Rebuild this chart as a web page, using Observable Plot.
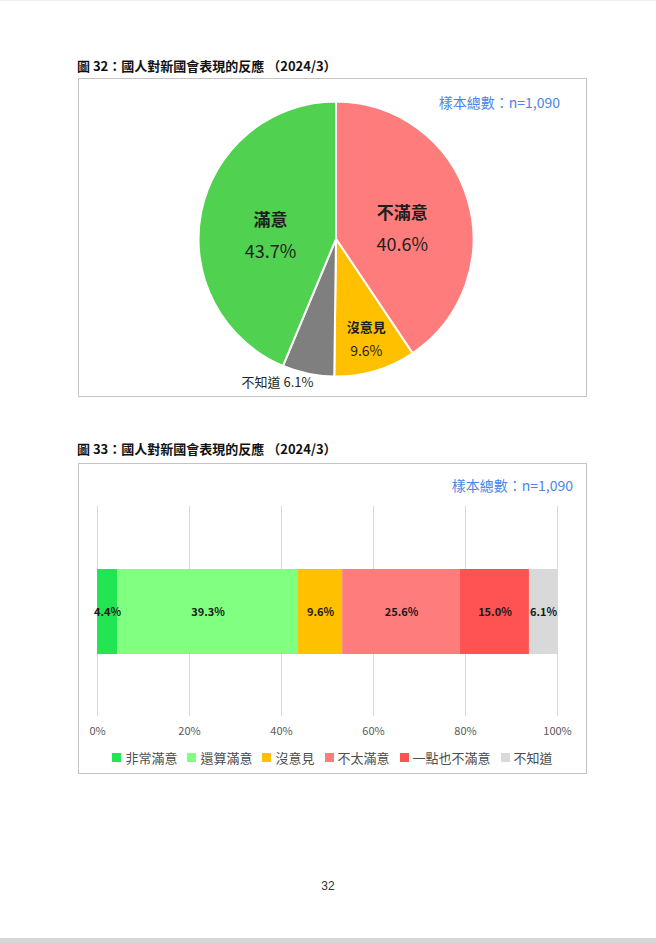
<!DOCTYPE html>
<html>
<head>
<meta charset="utf-8">
<script src="https://cdn.jsdelivr.net/npm/d3@7"></script>
<script src="https://cdn.jsdelivr.net/npm/@observablehq/plot@0.6"></script>
<style>
  html, body { margin: 0; padding: 0; background: #fff; }
  body { width: 656px; height: 943px; position: relative; overflow: hidden;
         font-family: "Noto Sans CJK TC", "Noto Sans", sans-serif; }
  .abs { position: absolute; }
  .title { font-size: 13px; font-weight: bold; color: #111; white-space: nowrap; letter-spacing: 0; }
  .box { border: 1.5px solid #c4c4c4; box-sizing: border-box; }
  .sample { font-size: 14px; color: #4a86e8; white-space: nowrap; text-align: right; }
  #legend .lg-swatches { justify-content: center; width: 100%; min-height: 0; font-family: "Noto Sans CJK TC", sans-serif; font-size: 13px; color: #4d4d4d; }
  #legend .lg-swatch { margin-right: 10px; }
  #legend .lg-swatch:last-child { margin-right: 0; }
  #legend .lg-swatch > svg { margin-right: 4px; }
</style>
</head>
<body>
<div class="abs" style="left:0;top:0;width:656px;height:1px;background:#eeeeee"></div>
<div class="abs" style="left:0;top:938px;width:656px;height:5px;background:#d6d6d6"></div>

<div class="abs title" style="left:77px;top:56px;">圖 32：國人對新國會表現的反應 （2024/3）</div>
<div class="abs box" style="left:78px;top:78px;width:509px;height:319px;"></div>
<div id="pie" class="abs" style="left:78px;top:78px;"></div>
<div class="abs sample" style="left:380px;top:92px;width:180px;">樣本總數：n=1,090</div>

<div class="abs title" style="left:77px;top:439px;">圖 33：國人對新國會表現的反應 （2024/3）</div>
<div class="abs box" style="left:78px;top:463px;width:509px;height:311px;"></div>
<div id="bar" class="abs" style="left:78px;top:463px;"></div>
<div class="abs sample" style="left:393px;top:475px;width:180px;">樣本總數：n=1,090</div>
<div id="legend" class="abs" style="left:78px;top:748px;width:509px;"></div>

<div class="abs" style="left:0;top:879px;width:656px;text-align:center;font-family:'Liberation Sans',Arial,sans-serif;font-size:12px;color:#333;">32</div>

<script>
// ---- Pie data (clockwise from 12 o'clock) ----
const pieNames  = ["不滿意", "沒意見", "不知道", "滿意"];
const pieValues = [40.6, 9.6, 6.1, 43.7];
const pieColors = ["#ff7c7c", "#ffc000", "#7f7f7f", "#50d250"];

// ---- Bar data ----
const barNames  = ["非常滿意", "還算滿意", "沒意見", "不太滿意", "一點也不滿意", "不知道"];
const barValues = [4.4, 39.3, 9.6, 25.6, 15.0, 6.1];
const barColors = ["#22e553", "#80ff80", "#ffc000", "#ff7c7c", "#ff5252", "#d9d9d9"];
const xTicks    = [0, 20, 40, 60, 80, 100];

// ---------------- PIE ----------------
const pieData = pieNames.map((name, i) => ({name, value: pieValues[i], color: pieColors[i]}));
const arcs = d3.pie().sort(null).value(d => d.value)(pieData);
// label style per slice: radius factor and pixel offsets
const labelStyle = {
  "不滿意": {k: 0.5,  dy: 10, nameSize: 17, valSize: 18, gap: 15.5, inside: true},
  "滿意":   {k: 0.49, dy: 10, nameSize: 17, valSize: 18, gap: 15.5, inside: true},
  "沒意見": {k: 0.76, dy: 0,  nameSize: 13, valSize: 14, gap: 12,   inside: true},
  "不知道": {k: 1.04, dy: 3,  nameSize: 13, valSize: 13, gap: 0,    inside: false}
};
const labels = arcs.map(a => {
  const mid = (a.startAngle + a.endAngle) / 2;
  const s = labelStyle[a.data.name];
  return {name: a.data.name, value: a.data.value, x: s.k * Math.sin(mid), y: s.k * Math.cos(mid), s};
});
const inside = labels.filter(d => d.s.inside);
const outside = labels.filter(d => !d.s.inside);

const pieMark = (index, scales) => {
  const cx = scales.x(0), cy = scales.y(0), r = scales.x(1) - scales.x(0);
  const g = d3.create("svg:g").attr("transform", `translate(${cx},${cy})`);
  g.selectAll("path").data(arcs).join("path")
    .attr("d", d3.arc().innerRadius(0).outerRadius(r))
    .attr("fill", d => d.data.color)
    .attr("stroke", "#fff").attr("stroke-width", 2).attr("stroke-linejoin", "round");
  return g.node();
};

const pie = Plot.plot({
  width: 508, height: 317,
  margin: 0,
  x: {domain: [-1, 1], range: [120.5, 395.5], axis: null},
  y: {domain: [-1, 1], range: [298.5, 23.5], axis: null},
  style: {fontFamily: "'Noto Sans CJK TC', sans-serif", overflow: "visible", background: "transparent"},
  marks: [
    pieMark,
    ...["不滿意", "滿意", "沒意見"].map(n => {
      const d = inside.filter(e => e.name === n);
      const s = labelStyle[n];
      return [
        Plot.text(d, {x: "x", y: "y", text: "name", dy: s.dy - s.gap, fontSize: s.nameSize, fontWeight: "bold", fill: "#1f1f1f"}),
        Plot.text(d, {x: "x", y: "y", text: e => e.value.toFixed(1) + "%", dy: s.dy + s.gap, fontSize: s.valSize, fill: "#1f1f1f"})
      ];
    }),
    Plot.text(outside, {x: "x", y: "y", text: e => e.name + " " + e.value.toFixed(1) + "%", textAnchor: "end", dx: 6, dy: 3, fontSize: 13, fill: "#262626"})
  ]
});
document.getElementById("pie").appendChild(pie);

// ---------------- BAR ----------------
const barData = barNames.map((name, i) => ({name, value: barValues[i], row: "all"}));
const bar = Plot.plot({
  width: 508, height: 309,
  marginLeft: 19, marginRight: 29, marginTop: 43, marginBottom: 56,
  x: {domain: [0, 100], axis: null},
  y: {domain: ["all"], padding: 0.424, axis: null},
  color: {domain: barNames, range: barColors},
  style: {fontFamily: "'Noto Sans CJK TC', sans-serif", overflow: "visible", background: "transparent"},
  marks: [
    Plot.ruleX(xTicks, {stroke: "#d9d9d9", strokeWidth: 1}),
    Plot.barX(barData, {x: "value", y: "row", fill: "name", order: null}),
    Plot.text(barData, Plot.stackX({x: "value", y: "row", order: null, text: d => d.value.toFixed(1) + "%", fontWeight: "bold", fontSize: 11, fill: "#1a1a1a"})),
    Plot.axisX({ticks: xTicks, tickFormat: d => d + "%", tickSize: 0, tickPadding: 11, fontSize: 11, fill: "#595959", label: null})
  ]
});
document.getElementById("bar").appendChild(bar);

const legend = Plot.legend({
  color: {domain: barNames, range: barColors, type: "ordinal"},
  legend: "swatches",
  swatchSize: 9,
  className: "lg"
});
document.getElementById("legend").appendChild(legend);
</script>
</body>
</html>
